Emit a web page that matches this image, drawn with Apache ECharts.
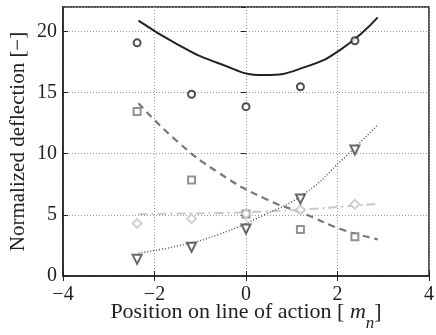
<!DOCTYPE html>
<html>
<head>
<meta charset="utf-8">
<script src="https://cdn.jsdelivr.net/npm/echarts@6/dist/echarts.min.js"></script>
<style>
  html, body { margin: 0; padding: 0; background: #fff; }
  #chart { width: 436px; height: 335px; }
</style>
</head>
<body>
<div id="chart"></div>
<script>
// measured points
const xPos = [-2.38, -1.19, 0, 1.19, 2.38];
const circleVals = [19.07, 14.86, 13.85, 15.48, 19.24];
const squareVals = [13.46, 7.85, 5.07, 3.8, 3.2];
const diamondVals = [4.3, 4.69, 5.1, 5.4, 5.86];
const triangleVals = [1.36, 2.35, 3.84, 6.3, 10.3];

// fitted curves
const fitX = [-2.35, -1.5, -0.6, 0.4, 1.3, 2.1, 2.88];
const solidFit = [20.88, 18.95, 17.4, 16.43, 17.1, 18.6, 21.15];
const dashedFit = [14.12, 11.0, 8.45, 6.35, 5.05, 3.8, 3.0];
const dashDotFit = [5.05, 5.1, 5.15, 5.28, 5.45, 5.67, 5.9];
const dottedFit = [1.88, 2.45, 3.4, 5.0, 6.8, 9.5, 12.35];

const xTicks = [-4, -2, 0, 2, 4];
const yTicks = [0, 5, 10, 15, 20];

const font = 'Liberation Serif';

function pairs(xs, ys) {
  return xs.map((x, i) => [x, ys[i]]);
}

function markers(name, vals, symbol, color, size, rotate) {
  return {
    name: name,
    type: 'scatter',
    data: pairs(xPos, vals),
    symbol: symbol,
    symbolSize: size,
    symbolRotate: rotate || 0,
    itemStyle: { color: '#fff', borderColor: color, borderWidth: 2 },
    z: 5
  };
}

function curve(name, vals, color, type, width) {
  return {
    name: name,
    type: 'line',
    data: pairs(fitX, vals),
    smooth: true,
    showSymbol: false,
    lineStyle: { color: color, width: width, type: type },
    z: 3
  };
}

const tickLabel = { fontFamily: font, fontSize: 20, color: '#222' };
const gridLine = { show: true, lineStyle: { color: '#999', type: [1, 2], width: 1 } };

const option = {
  animation: false,
  grid: {
    left: 63, right: 7, top: 7, bottom: 59,
    outerBoundsMode: 'none',
    show: true, borderColor: '#222', borderWidth: 1.5
  },
  xAxis: [{
    type: 'value', min: -4, max: 4, interval: 2,
    axisLine: { onZero: false, lineStyle: { color: '#222', width: 1.5 } },
    axisTick: { inside: true, length: 5, lineStyle: { color: '#222' } },
    axisLabel: Object.assign({ margin: 9, formatter: v => xTicks.includes(v) ? String(v).replace('-', '\u2212') : '' }, tickLabel),
    splitLine: gridLine,
    name: 'Position on line of action [ {m|m}{n|n}]',
    nameLocation: 'middle',
    nameGap: 17,
    nameMoveOverlap: false,
    nameTextStyle: {
      fontFamily: font, fontSize: 22, color: '#222',
      rich: {
        m: { fontFamily: font, fontSize: 22, fontStyle: 'italic', color: '#222' },
        n: { fontFamily: font, fontSize: 17, fontStyle: 'italic', color: '#222', padding: [22, 0, 0, 0] }
      }
    }
  }, {
    type: 'value', min: -4, max: 4, interval: 2, position: 'top',
    axisLine: { show: false },
    axisTick: { inside: true, length: 5, lineStyle: { color: '#222' } },
    axisLabel: { show: false },
    splitLine: { show: false }
  }],
  yAxis: [{
    type: 'value', min: 0, max: 22, interval: 5,
    axisLine: { show: true, onZero: false, lineStyle: { color: '#222', width: 1.5 } },
    axisTick: { inside: true, length: 5, lineStyle: { color: '#222' } },
    axisLabel: Object.assign({ margin: 6, showMaxLabel: false, formatter: v => yTicks.includes(v) ? String(v) : '' }, tickLabel),
    splitLine: gridLine,
    name: 'Normalized deflection [\u2212]',
    nameLocation: 'middle',
    nameGap: 34,
    nameMoveOverlap: false,
    nameTextStyle: { fontFamily: font, fontSize: 21, color: '#222' }
  }, {
    type: 'value', min: 0, max: 22, interval: 5, position: 'right',
    axisLine: { show: false },
    axisTick: { inside: true, length: 5, lineStyle: { color: '#222' } },
    axisLabel: { show: false },
    splitLine: { show: false }
  }],
  series: [
    curve('solid', solidFit, '#222', 'solid', 2),
    curve('dashed', dashedFit, '#777', [7, 5], 2.2),
    curve('dashdot', dashDotFit, '#c8c8c8', [9, 4, 2, 4], 2),
    curve('dotted', dottedFit, '#555', [1, 2], 1.5),
    markers('circles', circleVals, 'circle', '#222', 7),
    markers('squares', squareVals, 'rect', '#777', 7),
    markers('diamonds', diamondVals, 'diamond', '#c4c4c4', 9),
    markers('triangles', triangleVals, 'triangle', '#444', 9, 180)
  ]
};

const myChart = echarts.init(document.getElementById('chart'));
myChart.setOption(option);
</script>
</body>
</html>
